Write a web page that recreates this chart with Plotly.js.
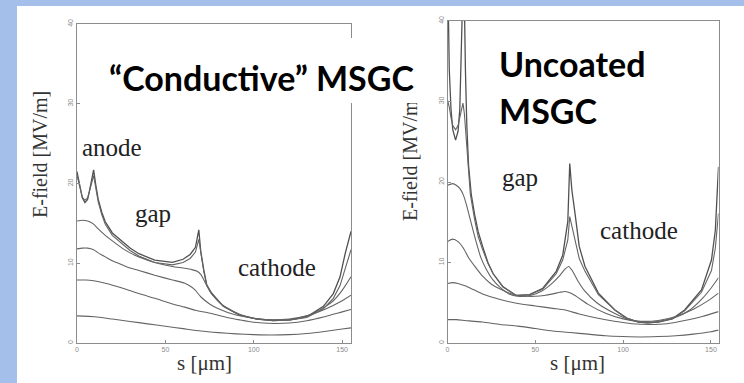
<!DOCTYPE html>
<html>
<head>
<meta charset="utf-8">
<script src="https://cdn.plot.ly/plotly-3.0.1.min.js"></script>
<style>html,body{margin:0;padding:0;background:#a4c0ea;}#chart{width:744px;height:383px;}</style>
</head>
<body>
<div id="chart"></div>
<script>
// ---------- DATA ----------
// Left panel: "Conductive" MSGC
var L_s1 = [0,1,2,3,4.5,6,7,8,9.4,10.5,12,14,16,20,25.5,30,35,44,54,60,64,67,68.9,70,71.7,73.4,76,82.8,92,101.6,111,120.6,130,139.4,145,148.8,151.7,155];
var L_c1 = [21.5,20.5,19.2,18.2,17.6,18.0,19.0,20.3,21.7,20.0,18.0,16.4,15.2,13.8,12.7,11.9,11.2,10.4,10.1,10.5,11.1,12.0,14.2,11.5,9.2,7.3,6.3,4.6,3.5,3.0,2.8,2.9,3.3,4.6,6.2,8.3,11.2,14.0];
var L_c2 = [21.0,20.0,19.0,18.3,17.9,18.2,19.0,20.0,21.0,19.6,17.7,16.1,14.9,13.5,12.4,11.6,10.9,10.1,9.8,10.1,10.6,11.4,13.0,11.2,9.0,7.2,6.2,4.6,3.5,3.0,2.8,2.9,3.2,4.3,5.6,7.2,9.2,11.7];
var L_s3 = [0,3,6,9.4,12,16,20,25.5,30,35,44,54,60,65,68,70,72,75,80,85,92,100,110,120,130,140,145,150,155];
var L_c3 = [15.3,15.4,15.3,14.9,14.3,13.5,12.8,11.9,11.3,10.8,10.1,9.6,9.4,9.2,9.0,8.6,7.8,6.6,5.2,4.4,3.6,3.1,2.9,2.9,3.4,4.5,5.3,6.6,8.3];
var L_s4 = [0,3,6,9.4,12,16,20,25.5,30,35,44,54,61,65,67,70,75,80,90,100,110,120,130,140,150,155];
var L_c4 = [11.8,11.9,11.9,11.7,11.3,10.8,10.3,9.8,9.4,9.1,8.5,7.9,7.5,7.0,6.6,5.8,4.9,4.3,3.5,3.1,2.9,3.0,3.4,4.2,5.3,6.0];
var L_s5 = [0,5,9.4,16,25.5,35,44,54,61,67,76,85,92,100,111,120,130,140,150,155];
var L_c5 = [7.9,7.9,7.8,7.5,6.9,6.2,5.6,4.9,4.5,4.1,3.7,3.2,2.9,2.6,2.45,2.5,2.8,3.3,3.9,4.2];
var L_s6 = [0,10,20,30,40,50,60,70,80,90,100,110,120,130,140,150,155];
var L_c6 = [3.4,3.3,3.0,2.7,2.4,2.1,1.8,1.5,1.3,1.15,1.05,1.0,1.05,1.2,1.45,1.75,1.9];

// Right panel: Uncoated MSGC
var R_s1 = [0,1,2,3,4.6,6,7,8,9.2,10.2,11,12,13.5,15.4,17.5,20,23,26,31.5,39.1,46.7,54.3,61.9,65.6,68.5,69.6,70.8,72.6,75,78.3,85.9,95.3,102,108.6,114,120,128,135,144.6,150.3,152.5,154.3];
var R_c1 = [48,34,29,26.5,25.2,26.3,29,35,48,34,27,22,18.5,16,13.8,12,10,8.6,7.0,5.9,6.0,6.8,8.9,10.9,15.1,22.3,19.0,16.1,12.0,9.5,6.2,4.1,3.1,2.6,2.5,2.6,3.0,4.1,6.6,10.3,14.0,21.9];
var R_s2 = [0,1,2,3,4.6,6,7,8,8.8,9.6,10.5,11.6,13,15.4,17.5,20,23,26,31.5,39.1,46.7,54.3,61.9,65.6,68.5,69.6,70.8,72.6,75,78.3,85.9,95.3,102,108.6,114,120,128,135,144.6,150.3,152.5,154.3];
var R_c2 = [30.2,29.3,28,27,26.5,27,28,29.3,29.8,28.5,25.5,22,18.5,15.4,13.2,11.6,9.9,8.6,7.0,5.9,6.0,6.7,8.6,10.3,12.8,15.7,14.5,12.5,10.5,8.9,6.0,4.1,3.1,2.6,2.5,2.6,3.0,4.0,6.3,9.0,11.8,16.1];
var R_s3 = [0,3,5,7,9,11,13,16,19,22,26,30,35,40,47,54,60,64,67,69,71,74,78,85,95,105,112,120,130,138,145,150,154.3];
var R_c3 = [19.6,19.8,19.6,19.2,18.4,17.0,15.3,12.8,10.6,9.2,7.8,6.9,6.1,5.8,5.9,6.5,7.5,8.4,9.2,9.5,9.0,7.8,6.5,5.0,3.7,2.8,2.6,2.7,3.2,4.1,5.5,6.8,8.1];
var R_s4 = [0,3,6,9,12,16,20,25,30,35,40,45,50,55,60,64,67,70,74,80,90,100,110,120,130,140,148,154.3];
var R_c4 = [12.6,12.9,12.6,11.8,10.6,9.4,8.3,7.3,6.7,6.2,5.9,5.8,5.8,5.9,6.1,6.3,6.4,6.2,5.7,4.8,3.7,3.0,2.7,2.8,3.3,4.2,5.2,6.2];
var R_s5 = [0,3,6,10,15,20,30,40,50,60,67,75,85,95,105,115,125,135,145,154.3];
var R_c5 = [7.4,7.5,7.4,7.1,6.6,6.1,5.4,4.9,4.6,4.3,4.1,3.6,3.1,2.7,2.4,2.3,2.4,2.8,3.3,3.9];
var R_s6 = [0,5,10,20,30,40,50,60,70,80,90,100,110,120,130,140,150,154.3];
var R_c6 = [2.9,2.9,2.8,2.6,2.3,2.1,1.8,1.5,1.3,1.1,0.9,0.8,0.75,0.8,0.9,1.1,1.4,1.6];

var xTicks = [0,50,100,150];
var xTickText = ['0','50','100','150'];
var yTicks = [0,10,20,30,40];
var yTickText = ['0','10','20','30','40'];

var yTitle = 'E-field [MV/m]';
var xTitle = 's [\u03bcm]';
var titleLeft = '\u201cConductive\u201d MSGC';
var titleRight1 = 'Uncoated';
var titleRight2 = 'MSGC';

// ---------- helpers ----------
var W = 744, H = 383;
function px(x){ return x / W; }
function py(y){ return 1 - y / H; }

function line(xs, ys, xa, ya, dark, spline){
  return {
    x: xs, y: ys, xaxis: xa, yaxis: ya, type: 'scatter', mode: 'lines',
    line: {color: dark ? '#505050' : '#646464', width: dark ? 1.3 : 1.1, shape: spline ? 'spline' : 'linear', smoothing: 0.6},
    hoverinfo: 'skip'
  };
}

var data = [
  line(L_s1, L_c1, 'x', 'y', true, false),
  line(L_s1, L_c2, 'x', 'y', false, false),
  line(L_s3, L_c3, 'x', 'y', false, true),
  line(L_s4, L_c4, 'x', 'y', false, true),
  line(L_s5, L_c5, 'x', 'y', false, true),
  line(L_s6, L_c6, 'x', 'y', false, true),
  line(R_s1, R_c1, 'x2', 'y2', true, false),
  line(R_s2, R_c2, 'x2', 'y2', false, false),
  line(R_s3, R_c3, 'x2', 'y2', false, true),
  line(R_s4, R_c4, 'x2', 'y2', false, true),
  line(R_s5, R_c5, 'x2', 'y2', false, true),
  line(R_s6, R_c6, 'x2', 'y2', false, true)
];

function xax(dom, rng, anchor){
  return {domain: dom, range: rng, anchor: anchor, showline: true, mirror: true, linecolor: '#8c8c8c', linewidth: 1,
    ticks: 'inside', ticklen: 3, tickcolor: '#8c8c8c', tickvals: xTicks, ticktext: xTickText,
    tickfont: {family: 'Liberation Sans', size: 7, color: '#8a8a8a'}, showgrid: false, zeroline: false, fixedrange: true};
}
function yax(dom, rng, anchor){
  return {domain: dom, range: rng, anchor: anchor, showline: true, mirror: true, linecolor: '#8c8c8c', linewidth: 1,
    ticks: 'inside', ticklen: 3, tickcolor: '#8c8c8c', tickvals: yTicks, ticktext: yTickText, tickangle: -90,
    tickfont: {family: 'Liberation Sans', size: 7, color: '#8a8a8a'}, showgrid: false, zeroline: false, fixedrange: true};
}

var serif = 'Liberation Serif, Times New Roman, serif';
var sans = 'Lato, Open Sans, sans-serif';
function txt(t, x, y, size, fam, color, opts){
  var a = {text: t, x: px(x), y: py(y), xref: 'paper', yref: 'paper', showarrow: false,
    xanchor: 'center', yanchor: 'middle', font: {family: fam, size: size, color: color}};
  if (opts) for (var k in opts) a[k] = opts[k];
  return a;
}

var layout = {
  width: W, height: H, margin: {l: 0, r: 0, t: 0, b: 0},
  paper_bgcolor: '#a4c0ea', plot_bgcolor: '#ffffff', showlegend: false,
  shapes: [{type: 'rect', xref: 'paper', yref: 'paper', x0: px(17), x1: 1, y0: 0, y1: py(6),
    fillcolor: '#ffffff', line: {width: 0}, layer: 'below'}],
  xaxis: xax([px(77), px(351)], [0, 155], 'y'),
  yaxis: yax([py(343), py(24)], [0, 40], 'x'),
  xaxis2: xax([px(447.5), px(718.5)], [0, 154.3], 'y2'),
  yaxis2: yax([py(343), py(21)], [0, 40], 'x2'),
  annotations: [
    txt(yTitle, 40, 155, 20, serif, '#333', {textangle: -90}),
    txt(yTitle, 410, 157, 20, serif, '#333', {textangle: -90}),
    // white box behind the left title (hides axis edge as in the slide)
    txt('\u00a0', 263, 70.5, 10, sans, '#ffffff', {bgcolor: '#ffffff', width: 330, height: 65, borderpad: 0, borderwidth: 0}),
    txt('<b>' + titleLeft + '</b>', 107, 77, 34, sans, '#000', {xanchor: 'left'}),
    txt('<b>' + titleRight1 + '</b>', 497, 64, 34, sans, '#000', {xanchor: 'left'}),
    txt('<b>' + titleRight2 + '</b>', 497, 110, 34, sans, '#000', {xanchor: 'left'}),
    txt('anode', 112, 147, 25, serif, '#222'),
    txt('gap', 153, 213, 25, serif, '#222'),
    txt('cathode', 277, 267, 25, serif, '#222'),
    txt('gap', 520, 177, 25, serif, '#222'),
    txt('cathode', 639, 230, 25, serif, '#222'),
    txt(xTitle, 205, 363, 21, serif, '#333'),
    txt(xTitle, 577, 363, 21, serif, '#333')
  ]
};

Plotly.newPlot('chart', data, layout, {displayModeBar: false, staticPlot: true});
</script>
</body>
</html>
